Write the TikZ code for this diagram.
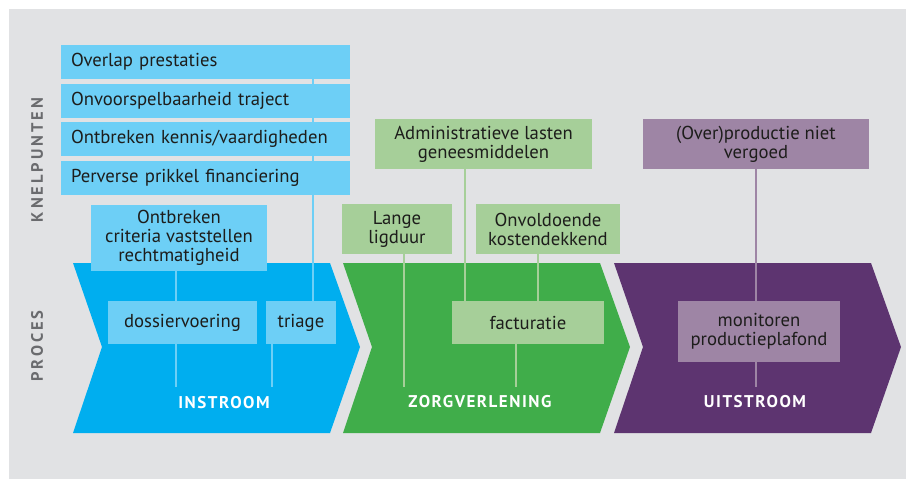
\documentclass[tikz,border=0pt]{standalone}
\usepackage{fontspec}
\setmainfont{PT Sans}
\newfontfamily\stagefont[LetterSpace=9]{PT Sans}
\newfontfamily\sidefont[LetterSpace=18]{PT Sans}
\definecolor{panel}{HTML}{E1E2E4}
\definecolor{ink}{HTML}{1D1D1B}
\definecolor{sidegrey}{HTML}{6A6B6E}
\definecolor{instroom}{HTML}{00AEEF}
\definecolor{instroomlight}{HTML}{6DCFF6}
\definecolor{zorg}{HTML}{40AD4A}
\definecolor{zorglight}{HTML}{A6CF99}
\definecolor{uitstroom}{HTML}{5D3470}
\definecolor{uitstroomlight}{HTML}{9E85A5}
\pgfdeclarelayer{shapes}
\pgfdeclarelayer{links}
\pgfsetlayers{shapes,links,main}

\begin{document}
\begin{tikzpicture}[x=1pt,y=-1pt]
    \tikzstyle{box}=[inner sep=0pt, outer sep=0pt, align=center, text=ink, font=\fontsize{18.7}{19}\selectfont]
    \tikzstyle{in box}=[box, fill=instroomlight]
    \tikzstyle{zorg box}=[box, fill=zorglight]
    \tikzstyle{uit box}=[box, fill=uitstroomlight]
    \tikzstyle{stack box}=[in box, minimum width=289pt, minimum height=34pt, text width=269pt, align=left]
    \tikzstyle{in line}=[draw=instroomlight, line width=2pt]
    \tikzstyle{zorg line}=[draw=zorglight, line width=2pt]
    \tikzstyle{uit line}=[draw=uitstroomlight, line width=2pt]
    \tikzstyle{stage label}=[text=white, font=\stagefont\bfseries\fontsize{17}{17}\selectfont]
    \tikzstyle{side label}=[rotate=90, text=sidegrey, font=\sidefont\bfseries\fontsize{16.5}{16.5}\selectfont]
    \useasboundingbox (0,0) rectangle (906,479);
    % Background and the three process arrows
    \begin{pgfonlayer}{shapes}
        \fill[white] (0,0) rectangle (906,479);
        \fill[panel] (9,9) rectangle (906,479);
        \foreach \x/\col in {73/instroom, 343/zorg, 614/uitstroom}
            \fill[\col] (\x,263) -- ++(257,0) -- ++(30,84) -- ++(-30,86) -- ++(-257,0) -- ++(29,-86) -- cycle;
    \end{pgfonlayer}
    \node[side label] (knelpunten) at (37,160) {KNELPUNTEN};
    \node[side label] (proces) at (37,346) {PROCES};
    \coordinate (foot) at (0,387);
    % Instroom
    \foreach \name/\y/\txt in {overlap/62/{Overlap prestaties}, traject/100.5/{Onvoorspelbaarheid traject},
                               kennis/139/{Ontbreken kennis/vaardigheden}, prikkel/177.5/{Perverse prikkel financiering}}
        \node[stack box] (\name) at (205.5,\y) {\txt};
    \node[in box, minimum width=176pt, minimum height=66pt] (criteria) at (179,238) {Ontbreken\\criteria vaststellen\\rechtmatigheid};
    \node[in box, minimum width=149pt, minimum height=43pt] (dossier) at (182.5,322.5) {dossiervoering};
    \node[in box, minimum width=70pt, minimum height=43pt] (triage) at (301,322.5) {triage};
    \node[stage label] (instroom label) at (224,403) {INSTROOM};
    % Zorgverlening
    \node[zorg box, minimum width=217pt, minimum height=50pt] (admin) at (483.5,144) {Administratieve lasten\\geneesmiddelen};
    \node[zorg box, minimum width=110pt, minimum height=50pt] (ligduur) at (397,229) {Lange\\ligduur};
    \node[zorg box, minimum width=144pt, minimum height=50pt] (kosten) at (548,229) {Onvoldoende\\kostendekkend};
    \node[zorg box, minimum width=152pt, minimum height=43pt] (facturatie) at (528,322.5) {facturatie};
    \node[stage label] (zorg label) at (480,402) {ZORGVERLENING};
    % Uitstroom
    \node[uit box, minimum width=226pt, minimum height=50pt] (overproductie) at (756,144) {(Over)productie niet\\vergoed};
    \node[uit box, minimum width=162pt, minimum height=61pt] (plafond) at (759,331.5) {monitoren\\productieplafond};
    \node[stage label] (uit label) at (755,402) {UITSTROOM};
    % Connectors
    \begin{pgfonlayer}{links}
        \draw[in line] (overlap.south -| 313,0) -- (triage.north -| 313,0);
        \draw[in line] (criteria.south -| 176,0) -- (dossier.north -| 176,0);
        \draw[in line] (dossier.south -| 176,0) -- (foot -| 176,0);
        \draw[in line] (triage.south -| 272,0) -- (foot -| 272,0);
        \draw[zorg line] (ligduur.south -| 404,0) -- (foot -| 404,0);
        \draw[zorg line] (admin.south -| 465,0) -- (facturatie.north -| 465,0);
        \draw[zorg line] (kosten.south -| 538,0) -- (facturatie.north -| 538,0);
        \draw[zorg line] (facturatie.south -| 516,0) -- (foot -| 516,0);
        \draw[uit line] (overproductie.south -| 756,0) -- (plafond.north -| 756,0);
        \draw[uit line] (plafond.south -| 756,0) -- (foot -| 756,0);
    \end{pgfonlayer}
\end{tikzpicture}
\end{document}
